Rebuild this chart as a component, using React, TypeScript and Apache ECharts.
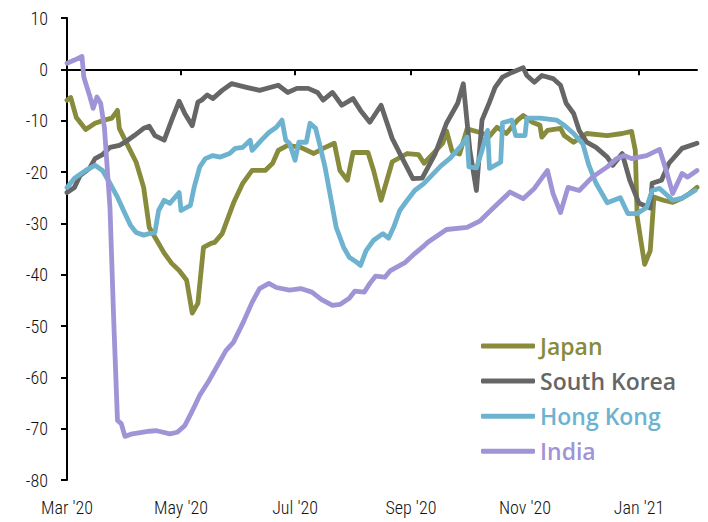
import React, { useEffect, useRef } from "react";
import * as echarts from "echarts";

// x = days since 1 Mar 2020, y = value
const japan: [number, number][] = [
  [0, -6], [2, -5.5], [5, -9.4], [10, -11.7], [15, -10.5], [20, -9.9], [24, -9.5], [27, -8], [28, -11.5],
  [33, -15.2], [37, -18.1], [41, -23], [44, -30.8], [48, -33.3], [52, -35.8], [56, -37.8], [60, -39.2],
  [64, -41.1], [67, -47.5], [70, -45.6], [73, -34.7], [77, -33.9], [79, -33.7], [83, -32], [89, -26.1],
  [94, -22.2], [99, -19.7], [106, -19.7], [110, -18.3], [113, -15.8], [118, -14.8], [125, -15.2],
  [132, -16.4], [137, -15.4], [143, -14.4], [146, -19.7], [150, -21.6], [153, -16.2], [161, -16.2],
  [164, -19.7], [168, -25.5], [174, -18], [182, -16.4], [188, -16.6], [191, -18.3], [197, -16],
  [201, -14.4], [203, -12], [206, -16], [210, -16.5], [214, -11.6], [221, -12.3], [226, -13], [230, -11.3],
  [235, -12.5], [241, -9.9], [244, -9], [249, -10.3], [253, -10.9], [254, -13.2], [257, -11.9],
  [264, -11.5], [266, -12.9], [271, -14.2], [278, -12.5], [289, -12.9], [297, -12.5], [302, -12.1],
  [304, -15.8], [305, -28.8], [309, -38], [312, -35.3], [314, -24.9], [319, -25.5], [324, -25.9],
  [329, -25.1], [333, -24.2], [337, -23],
];

const southKorea: [number, number][] = [
  [0, -24], [4, -23], [7, -20.7], [12, -19.3], [15, -17.4], [19, -16.6], [23, -15.2], [28, -14.8],
  [31, -14.2], [36, -12.9], [41, -11.5], [44, -11.1], [47, -12.9], [52, -13.8], [56, -9.9], [60, -6.2],
  [63, -8.6], [67, -11], [70, -6.4], [72, -6], [75, -5], [78, -5.7], [83, -4.1], [88, -2.8], [96, -3.5],
  [103, -4.1], [113, -3.1], [118, -4.5], [123, -3.7], [129, -3.7], [134, -4.5], [137, -6], [142, -4.5],
  [147, -7], [153, -5.7], [157, -8], [162, -10.3], [168, -7], [174, -13.5], [180, -17.8], [185, -21.3],
  [190, -21.2], [197, -16.4], [203, -10.5], [209, -6.6], [212, -2.8], [215.5, -15.8], [219, -23.6],
  [222, -9.9], [226, -6.4], [229, -3.5], [233, -1.5], [238, -0.6], [244, 0.3], [246, -1.2], [250, -2.5],
  [254, -1.2], [260, -1.8], [264, -3.1], [267, -6.6], [271, -8.6], [274, -11.9], [278, -14.2],
  [283, -15.2], [289, -17.1], [292, -18.7], [297, -16.4], [301, -21.6], [306, -26.1], [312, -27],
  [313, -22.2], [318, -21.6], [322, -18.3], [329, -15.4], [337, -14.4],
];

const hongKong: [number, number][] = [
  [0, -23], [4, -21.2], [10, -19.7], [15, -18.7], [19, -19.7], [23, -22.2], [27, -24.9], [31, -28.1],
  [34, -30.4], [37, -31.8], [41, -32.3], [44, -32], [47, -31.8], [49, -27.5], [52, -25.5], [55, -26.1],
  [60, -24], [61, -27.5], [66, -26.5], [68, -23], [71, -19], [74, -17.4], [78, -16.8], [82, -17.1],
  [87, -16.4], [90, -15.4], [94, -15.2], [98, -13.8], [99, -15.8], [104, -13.8], [108, -12.3],
  [112, -11.3], [115, -9.9], [117, -13.8], [119, -14.4], [122, -17.7], [124, -14.2], [128, -14.2],
  [130, -10.5], [133, -11.5], [135, -14.4], [138, -19], [141, -24.9], [144, -30.8], [148, -34.7],
  [151, -36.6], [155, -37.6], [157, -38.2], [160, -35.3], [164, -33.3], [169, -32], [172, -32.9],
  [175, -30.5], [178, -27.5], [182, -25.5], [186, -23.6], [191, -22.2], [196, -20.3], [200, -18.8],
  [205, -17.3], [211, -14.8], [214, -13.2], [215, -19], [219, -19.2], [222, -15.8], [225, -11.9],
  [226, -19.3], [232, -18.1], [233, -10.4], [238, -9.9], [240, -12.9], [245, -12.9], [246, -9.5],
  [253, -9.5], [262, -9.9], [266, -10.9], [271, -12.5], [276, -14.6], [279, -18.5], [283, -22.2],
  [289, -26], [296, -25], [300, -28.1], [305, -28.1], [310, -26.9], [313, -23.6], [317, -23.2],
  [324, -25.5], [329, -25.1], [336, -23.6],
];

const india: [number, number][] = [
  [0, 1.2], [4, 1.8], [8, 2.5], [9, -1.5], [10, -2.7], [12, -5], [14, -7.6], [16, -5.4], [18, -6.6],
  [20, -11.3], [23, -27], [25, -49], [27, -68.4], [29, -69], [31, -71.5], [35, -71], [40, -70.7],
  [44, -70.5], [48, -70.4], [55, -71], [59, -70.7], [63, -69.4], [65, -68], [68, -65.8], [71, -63.5],
  [76, -60.6], [80, -58], [85, -54.8], [89, -53.2], [94, -49.5], [99, -45.4], [103, -42.7], [108, -41.7],
  [112, -42.5], [119, -43], [125, -42.7], [131, -43.4], [136, -44.8], [142, -46], [146, -45.8],
  [151, -44.6], [154, -43.2], [159, -43.4], [162, -41.7], [165, -40.3], [170, -40.5], [173, -39.2],
  [181, -37.6], [186, -35.9], [190, -34.7], [193, -33.7], [203, -31.2], [214, -30.8], [221, -29.5],
  [228, -27], [237, -23.9], [244, -25.2], [250, -23.2], [257, -19.7], [260, -24.2], [264, -27.9],
  [268, -23], [274, -23.6], [281, -21], [289, -19], [294, -17.4], [298, -16.8], [302, -17.4],
  [310, -16.8], [317, -15.6], [321, -20.3], [324, -24.2], [329, -20.3], [332, -21], [337, -19.7],
];

const seriesNames = ["Japan", "South Korea", "Hong Kong", "India"];
const seriesColors = ["#878b3b", "#666666", "#6db3cf", "#a194d6"];
const tickDates = ["2020-03-01", "2020-05-01", "2020-07-01", "2020-09-01", "2020-11-01", "2021-01-01"];
const tickLabels = ["Mar '20", "May '20", "Jul '20", "Sep '20", "Nov '20", "Jan '21"];
const startDate = "2020-03-01";
const endDate = "2021-02-01";

const DAY = 86400000;
const toTs = (s: string) => {
  const [y, m, d] = s.split("-").map(Number);
  return Date.UTC(y, m - 1, d);
};
const toDay = (s: string) => Math.round((toTs(s) - toTs(startDate)) / DAY);

export default function App() {
  const ref = useRef<HTMLDivElement>(null);
  useEffect(() => {
    if (!ref.current) return;
    const chart = echarts.init(ref.current, undefined, { renderer: "svg" });
    const allData = [japan, southKorea, hongKong, india];
    const ticks = tickDates.map(toDay);
    const maxDay = toDay(endDate);
    const axisFont = "'Roboto Condensed', 'DejaVu Sans', sans-serif";
    chart.setOption({
      animation: false,
      grid: { left: 67, right: 11, top: 18, bottom: 42 },
      xAxis: [
        {
          type: "value",
          position: "bottom",
          min: 0,
          max: maxDay,
          axisLine: { show: false, onZero: false },
          axisTick: { show: false },
          splitLine: { show: false },
          axisLabel: {
            show: true,
            customValues: ticks,
            margin: 18,
            fontFamily: axisFont,
            fontSize: 18,
            fontWeight: 300,
            color: "#111",
            formatter: (val: number) => {
              const i = ticks.indexOf(Math.round(val));
              return i >= 0 ? tickLabels[i] : "";
            },
          },
        },
        {
          type: "value",
          position: "top",
          min: 0,
          max: maxDay,
          axisLine: { show: true, onZero: true, lineStyle: { color: "#000", width: 2 } },
          axisTick: { show: true, inside: true, length: 6, customValues: ticks, lineStyle: { color: "#000", width: 2 } },
          axisLabel: { show: false },
          splitLine: { show: false },
        },
      ],
      yAxis: {
        type: "value",
        min: -80,
        max: 10,
        interval: 10,
        axisLine: { show: true, onZero: false, lineStyle: { color: "#000", width: 2 } },
        axisTick: { show: true, length: 6, lineStyle: { color: "#000", width: 2 } },
        splitLine: { show: false },
        axisLabel: { margin: 19, fontFamily: axisFont, fontSize: 18, fontWeight: 300, color: "#111" },
      },
      legend: {
        orient: "vertical",
        left: 481,
        top: 333,
        padding: 0,
        icon: "roundRect",
        itemWidth: 54,
        itemHeight: 5,
        itemGap: 9.1,
        textStyle: { fontFamily: "'Open Sans', sans-serif", fontSize: 23, fontWeight: 600, lineHeight: 26 },
        data: seriesNames.map((n, i) => ({ name: n, textStyle: { color: seriesColors[i] } })),
      },
      series: seriesNames.map((n, i) => ({
        name: n,
        type: "line",
        xAxisIndex: 0,
        symbol: "none",
        showSymbol: false,
        color: seriesColors[i],
        lineStyle: { width: 4.8, color: seriesColors[i], cap: "round", join: "round" },
        data: allData[i],
      })),
    });
    return () => chart.dispose();
  }, []);
  return <div ref={ref} style={{ position: "absolute", left: 0, top: 0, width: 708, height: 522 }} />;
}
